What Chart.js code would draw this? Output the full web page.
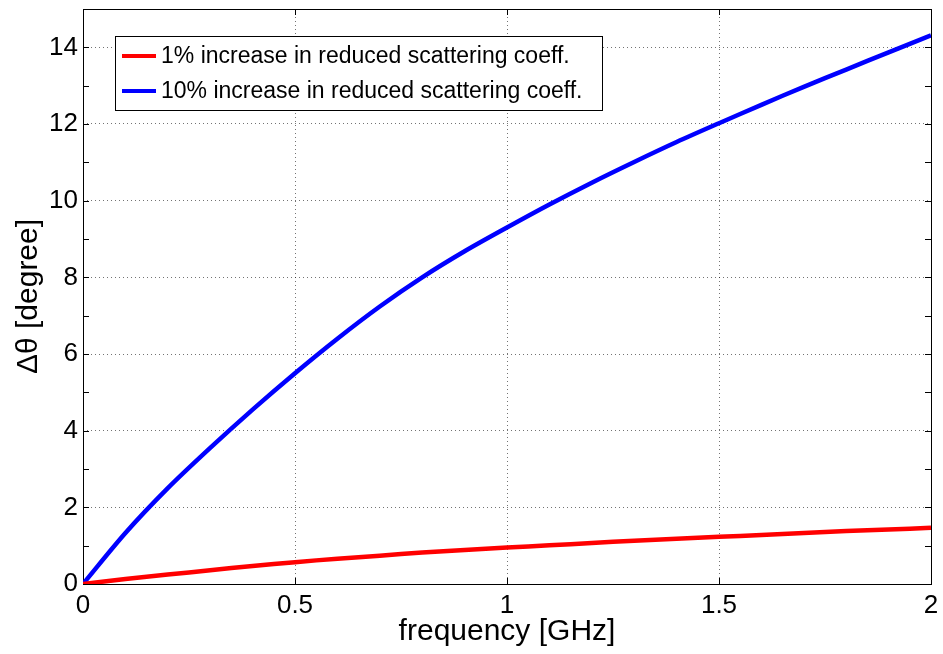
<!DOCTYPE html>
<html>
<head>
<meta charset="utf-8">
<script src="https://cdn.jsdelivr.net/npm/chart.js@4.4.1/dist/chart.umd.min.js"></script>
<style>
  html, body { margin: 0; padding: 0; background: #fff; }
  #wrap { width: 943px; height: 654px; position: relative; }
</style>
</head>
<body>
<div id="wrap"><canvas id="c" width="943" height="654"></canvas></div>
<script>
// ---- data ----
const frequency = [0, 0.1, 0.2, 0.3, 0.4, 0.5, 0.6, 0.7, 0.8, 0.9, 1.0, 1.1, 1.2, 1.3, 1.4, 1.5, 1.6, 1.7, 1.8, 1.9, 2.0];
const increase1pct = [0, 0.13, 0.245, 0.36, 0.47, 0.57, 0.66, 0.74, 0.82, 0.89, 0.95, 1.01, 1.07, 1.13, 1.18, 1.23, 1.28, 1.33, 1.38, 1.42, 1.47];
const increase10pct = [0, 1.33, 2.5, 3.55, 4.55, 5.5, 6.4, 7.24, 8.0, 8.68, 9.3, 9.9, 10.47, 11.01, 11.53, 12.02, 12.5, 12.97, 13.42, 13.87, 14.31];
const seriesLabels = ['1% increase in reduced scattering coeff.', '10% increase in reduced scattering coeff.'];
const xTickLabels = ['0', '0.5', '1', '1.5', '2'];
const yTickLabels = ['0', '2', '4', '6', '8', '10', '12', '14'];
const xTitle = 'frequency [GHz]';
const yTitle = '\u0394\u03b8 [degree]';

const FONT = 'Liberation Sans, Arial, Helvetica, sans-serif';
const toPts = (ys) => frequency.map((x, i) => ({ x: x, y: ys[i] }));

const framePlugin = {
  id: 'frame',
  beforeDatasetsDraw(chart) {
    const { ctx, chartArea: a, scales } = chart;
    ctx.save();
    ctx.strokeStyle = '#000';
    ctx.lineWidth = 1;
    const tl = 6;
    ctx.beginPath();
    scales.x.ticks.forEach(t => {
      const px = Math.round(scales.x.getPixelForValue(t.value)) + 0.5;
      ctx.moveTo(px, a.bottom); ctx.lineTo(px, a.bottom - tl);
      ctx.moveTo(px, a.top); ctx.lineTo(px, a.top + tl);
    });
    scales.y.ticks.forEach(t => {
      const py = Math.round(scales.y.getPixelForValue(t.value)) + 0.5;
      ctx.moveTo(a.left, py); ctx.lineTo(a.left + tl, py);
      ctx.moveTo(a.right, py); ctx.lineTo(a.right - tl, py);
    });
    ctx.stroke();
    ctx.strokeRect(Math.round(a.left) + 0.5, Math.round(a.top) + 0.5,
                   Math.round(a.right - a.left), Math.round(a.bottom - a.top));
    ctx.restore();
  },
  afterDraw(chart) {
    const { ctx } = chart;
    const bx = 115.5, by = 36.5, bw = 487, bh = 74;
    ctx.save();
    ctx.fillStyle = '#fff';
    ctx.fillRect(bx, by, bw, bh);
    ctx.strokeStyle = '#000';
    ctx.lineWidth = 1;
    ctx.strokeRect(bx, by, bw, bh);
    ctx.font = '23px ' + FONT;
    ctx.textBaseline = 'middle';
    ctx.textAlign = 'left';
    chart.data.datasets.forEach((ds, i) => {
      const y = 56 + i * 35;
      ctx.strokeStyle = ds.borderColor;
      ctx.lineWidth = 4;
      ctx.beginPath();
      ctx.moveTo(122, y); ctx.lineTo(156, y);
      ctx.stroke();
      ctx.fillStyle = '#000';
      ctx.fillText(ds.label, 161, y + 1);
    });
    ctx.restore();
  }
};

new Chart(document.getElementById('c'), {
  type: 'line',
  data: {
    datasets: [
      { label: seriesLabels[0], data: toPts(increase1pct), borderColor: '#ff0000', backgroundColor: '#ff0000', borderWidth: 4.5, pointRadius: 0, tension: 0.3 },
      { label: seriesLabels[1], data: toPts(increase10pct), borderColor: '#0000ff', backgroundColor: '#0000ff', borderWidth: 4.5, pointRadius: 0, tension: 0.3 }
    ]
  },
  options: {
    responsive: false,
    animation: false,
    layout: { autoPadding: false, padding: { top: 9, right: 12, left: 0, bottom: 0 } },
    plugins: { legend: { display: false }, tooltip: { enabled: false } },
    scales: {
      x: {
        type: 'linear', min: 0, max: 2,
        afterFit: (s) => { s.height = 70; s.paddingLeft = 0; s.paddingRight = 0; s.paddingTop = 0; s.paddingBottom = 0; },
        ticks: {
          stepSize: 0.5, color: '#000', padding: 6,
          font: { family: FONT, size: 26 },
          callback: (v) => { const i = Math.round(v / 0.5); return xTickLabels[i]; },
          maxRotation: 0, autoSkip: false
        },
        grid: {
          drawTicks: false,
          color: (c) => (c.tick && (c.tick.value === 0 || c.tick.value === 2)) ? 'rgba(0,0,0,0)' : 'rgba(0,0,0,0.55)',
          borderDash: [1, 3]
        },
        border: { display: false, dash: [1, 3] },
        title: { display: true, text: xTitle, color: '#000', font: { family: FONT, size: 30 }, padding: { top: 0, bottom: 4 } }
      },
      y: {
        type: 'linear', min: 0, max: 15,
        afterFit: (s) => { s.width = 83; s.paddingLeft = 0; s.paddingRight = 0; s.paddingTop = 0; s.paddingBottom = 0; },
        ticks: {
          stepSize: 1, color: '#000', padding: 5,
          font: { family: FONT, size: 26 },
          callback: (v) => (v % 2 === 0 ? yTickLabels[v / 2] : ''),
          autoSkip: false
        },
        grid: {
          drawTicks: false,
          color: (c) => (c.tick && c.tick.value % 2 === 0 && c.tick.value !== 0) ? 'rgba(0,0,0,0.55)' : 'rgba(0,0,0,0)',
        },
        border: { display: false, dash: [1, 3] },
        title: { display: true, text: yTitle, color: '#000', font: { family: FONT, size: 30 }, padding: { top: 11, bottom: 0 } }
      }
    }
  },
  plugins: [framePlugin]
});
</script>
</body>
</html>
